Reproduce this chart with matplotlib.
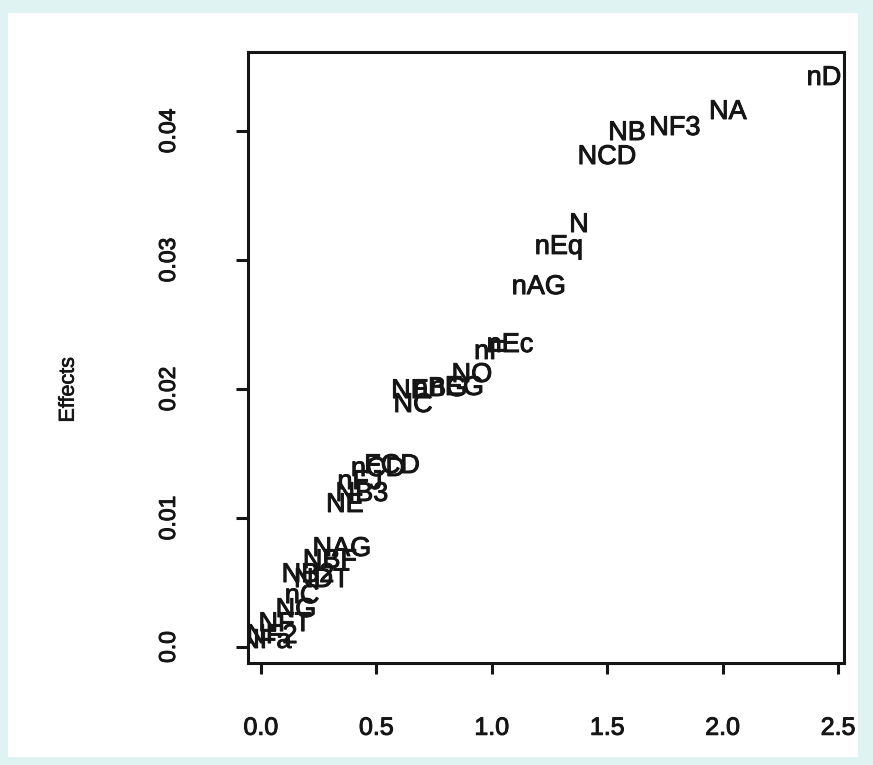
import matplotlib
matplotlib.use("Agg")
import matplotlib.pyplot as plt
import matplotlib.patheffects as pe

# ---- data ----
labels = ["nD", "NA", "NF3", "NB", "NCD", "N", "nEq", "nAG",
          "nEc", "nF", "NO", "nEG", "nBG", "NE", "NC",
          "FCD", "nCD", "nFJ", "NB3", "NE",
          "NAG", "NBF", "NDT", "NB2", "nC", "NG", "NFT", "NF2", "NFa"]
x_vals = [2.439, 2.023, 1.794, 1.586, 1.499, 1.378, 1.291, 1.204,
          1.079, 0.992, 0.914, 0.849, 0.776, 0.646, 0.659,
          0.568, 0.507, 0.429, 0.438, 0.364,
          0.351, 0.299, 0.264, 0.204, 0.178, 0.152, 0.104, 0.048, 0.022]
y_vals = [0.04411, 0.04147, 0.04023, 0.03984, 0.03798, 0.03271, 0.03101, 0.02790,
          0.02341, 0.02287, 0.02109, 0.02008, 0.02000, 0.01984, 0.01876,
          0.01403, 0.01380, 0.01279, 0.01186, 0.01101,
          0.00760, 0.00667, 0.00519, 0.00558, 0.00395, 0.00287, 0.00178, 0.00085, 0.00047]
x_ticks = [0.0, 0.5, 1.0, 1.5, 2.0, 2.5]
x_ticklabels = ["0.0", "0.5", "1.0", "1.5", "2.0", "2.5"]
y_ticks = [0.0, 0.01, 0.02, 0.03, 0.04]
y_ticklabels = ["0.0", "0.01", "0.02", "0.03", "0.04"]
y_label = "Effects"

plt.rcParams['font.family'] = ['Liberation Sans', 'DejaVu Sans']

INK = "#151515"
thick = [pe.withStroke(linewidth=0.7, foreground=INK)]

W, H = 873, 765
fig = plt.figure(figsize=(W / 100, H / 100), dpi=100, facecolor="#dff4f2")
# white page area inside the cyan border
bg = fig.add_axes([8 / W, 1 - 757 / H, (858 - 8) / W, (757 - 13) / H], zorder=-10)
bg.set_facecolor("white")
bg.set_xticks([])
bg.set_yticks([])
for sp in bg.spines.values():
    sp.set_visible(False)

ax = fig.add_axes([248 / W, 1 - 663 / H, (844 - 248) / W, (663 - 52) / H], zorder=1)
ax.set_facecolor("white")
ax.set_xlim(-0.056, 2.526)
ax.set_ylim(-0.00124, 0.04612)

for lab, xv, yv in zip(labels, x_vals, y_vals):
    ax.text(xv, yv, lab, ha="center", va="center", fontsize=19.5,
            color=INK, clip_on=True, path_effects=thick)

for sp in ax.spines.values():
    sp.set_linewidth(2.2)
    sp.set_color(INK)

ax.set_xticks(x_ticks)
ax.set_xticklabels(x_ticklabels)
ax.set_yticks(y_ticks)
ax.set_yticklabels(y_ticklabels, rotation=90, va="center")
ax.tick_params(axis="x", length=8, width=2.2, pad=30, labelsize=18, colors=INK)
ax.tick_params(axis="y", length=9, width=2.2, pad=40, labelsize=16.5, colors=INK)
for t in ax.get_xticklabels() + ax.get_yticklabels():
    t.set_path_effects(thick)

ax.set_ylabel(y_label, fontsize=15.5, color=INK)
ax.yaxis.label.set_path_effects([pe.withStroke(linewidth=0.5, foreground=INK)])
ax.yaxis.set_label_coords(-0.284, 0.447)

fig.savefig("out.png", dpi=100, facecolor=fig.get_facecolor())
